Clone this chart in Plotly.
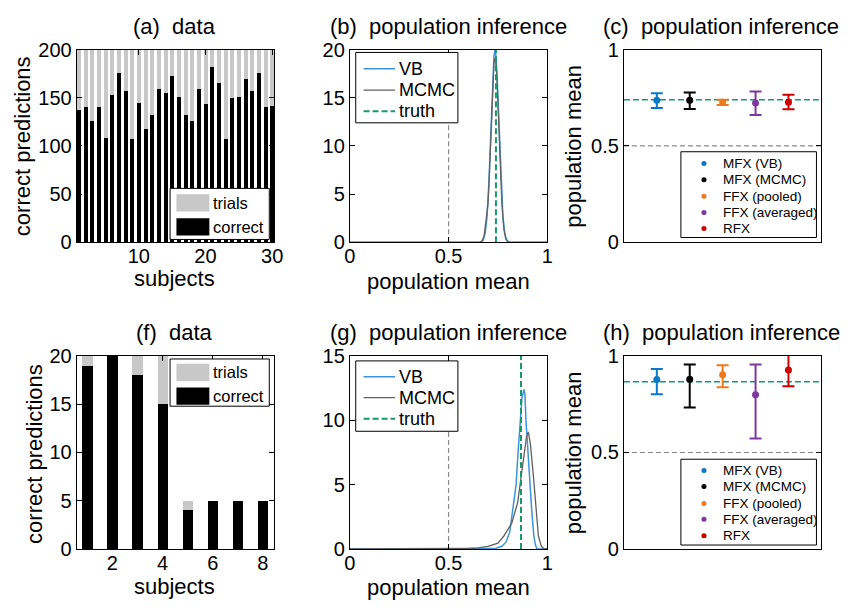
import plotly.graph_objects as go

W, H = 851, 610
FONT = "Liberation Sans, Arial, sans-serif"

# ---------------- data ----------------
subjects_a = [1, 2, 3, 4, 5, 6, 7, 8, 9, 10, 11, 12, 13, 14, 15,
              16, 17, 18, 19, 20, 21, 22, 23, 24, 25, 26, 27, 28, 29, 30]
trials_a = [200, 200, 200, 200, 200, 200, 200, 200, 200, 200,
            200, 200, 200, 200, 200, 200, 200, 200, 200, 200,
            200, 200, 200, 200, 200, 200, 200, 200, 200, 200]
correct_a = [138, 141, 126, 141, 109, 153, 176, 157, 108, 145,
             118, 133, 160, 155, 173, 151, 133, 126, 160, 144,
             182, 166, 108, 150, 151, 170, 157, 176, 141, 142]

subjects_f = [1, 2, 3, 4, 5, 6, 7, 8]
trials_f = [20, 20, 20, 20, 5, 5, 5, 5]
correct_f = [19, 20, 18, 15, 4, 5, 5, 5]

# posterior densities of the population mean
vb_x_b = [0.0, 0.60, 0.645, 0.655, 0.665, 0.675, 0.685, 0.695, 0.700, 0.705, 0.710, 0.715,
          0.720, 0.725, 0.730, 0.735, 0.740, 0.745, 0.750, 0.755, 0.760, 0.765,
          0.770, 0.775, 0.785, 0.795, 0.805, 0.815, 0.90, 1.0]
vb_y_b = [0.0, 0.0, 0.0, 0.01, 0.04, 0.22, 0.88, 2.70, 4.32, 6.48, 9.13, 12.1,
          15.06, 17.61, 19.33, 19.95, 19.33, 17.61, 15.06, 12.1, 9.13, 6.48,
          4.32, 2.70, 0.88, 0.22, 0.04, 0.01, 0.0, 0.0]
mc_x_b = [0.0, 0.60, 0.660, 0.670, 0.680, 0.690, 0.700, 0.705, 0.710, 0.715,
          0.720, 0.725, 0.730, 0.735, 0.740, 0.745, 0.750, 0.755, 0.760, 0.765,
          0.770, 0.780, 0.790, 0.800, 0.810, 0.90, 1.0]
mc_y_b = [0.0, 0.0, 0.02, 0.15, 0.70, 2.30, 4.10, 6.20, 8.80, 11.7,
          14.6, 17.0, 18.6, 19.1, 18.6, 17.0, 14.6, 11.7, 8.8, 6.2,
          4.1, 1.4, 0.35, 0.06, 0.0, 0.0, 0.0]
truth_b = 0.74

vb_x_g = [0.0, 0.70, 0.74, 0.77, 0.79, 0.81, 0.826, 0.842, 0.852, 0.862, 0.872,
          0.882, 0.887, 0.892, 0.902, 0.912, 0.922, 0.932, 0.940, 0.948, 1.0]
vb_y_g = [0.0, 0.0, 0.05, 0.2, 0.5, 1.3, 3.0, 5.0, 7.5, 10.0, 11.8,
          12.4, 12.0, 10.0, 7.3, 5.0, 2.8, 1.0, 0.3, 0.0, 0.0]
mc_x_g = [0.0, 0.55, 0.60, 0.65, 0.70, 0.75, 0.78, 0.80, 0.82, 0.85, 0.87,
          0.88, 0.895, 0.904, 0.915, 0.93, 0.945, 0.955, 0.97, 0.985, 1.0]
mc_y_g = [0.0, 0.0, 0.03, 0.08, 0.2, 0.45, 1.0, 1.5, 2.0, 3.6, 5.9,
          7.4, 8.75, 9.1, 8.1, 5.6, 2.6, 1.0, 0.2, 0.0, 0.0]
truth_g = 0.867

methods = ["MFX (VB)", "MFX (MCMC)", "FFX (pooled)", "FFX (averaged)", "RFX"]
method_pos = [1, 2, 3, 4, 5]
method_colors = ["#0a78c8", "#000000", "#ee7a1e", "#7e36a0", "#cc0000"]
mean_c = [0.737, 0.737, 0.727, 0.723, 0.727]
upper_c = [0.773, 0.777, 0.740, 0.782, 0.765]
lower_c = [0.697, 0.692, 0.713, 0.660, 0.690]
mean_h = [0.878, 0.880, 0.903, 0.800, 0.928]
upper_h = [0.933, 0.957, 0.952, 0.957, 1.03]
lower_h = [0.802, 0.733, 0.838, 0.573, 0.843]
chance = 0.5

# ---------------- layout helpers ----------------
cols = [(72, 273), (350, 551), (629, 830)]
rows = [(40, 240), (358, 558)]


def dx(l, r):
    return [l / W, r / W]


def dy(t, b):
    return [1 - b / H, 1 - t / H]


def px(x):
    return x / W


def py(y):
    return 1 - y / H


fig = go.Figure()

GRAY_BAR = "#c8c8c8"
VB_COL = "#3d93d9"
MC_COL = "#606060"
TRUTH_COL = "#17996a"
CHANCE_COL = "#8c8c8c"
TRUTH_DASH = "6px,3px"
CHANCE_DASH = "5px,3px"


def bar_panel(xa, ya, subj, trials, correct, width):
    fig.add_trace(go.Bar(x=subj, y=trials, width=width, name="trials",
                         marker=dict(color=GRAY_BAR, line=dict(width=0)),
                         xaxis=xa, yaxis=ya, showlegend=False))
    fig.add_trace(go.Bar(x=subj, y=correct, width=width, name="correct",
                         marker=dict(color="black", line=dict(width=0)),
                         xaxis=xa, yaxis=ya, showlegend=False))


def density_panel(xa, ya, vx, vy, mx, my, truth, ytop):
    fig.add_trace(go.Scatter(x=[chance, chance], y=[0, ytop], mode="lines",
                             line=dict(color=CHANCE_COL, width=1.2, dash=CHANCE_DASH),
                             xaxis=xa, yaxis=ya, showlegend=False))
    fig.add_trace(go.Scatter(x=vx, y=vy, mode="lines", name="VB", line=dict(color=VB_COL, width=1.5),
                             xaxis=xa, yaxis=ya, showlegend=False))
    fig.add_trace(go.Scatter(x=mx, y=my, mode="lines", name="MCMC", line=dict(color=MC_COL, width=1.3),
                             xaxis=xa, yaxis=ya, showlegend=False))
    fig.add_trace(go.Scatter(x=[truth, truth], y=[0, ytop], mode="lines", name="truth",
                             line=dict(color=TRUTH_COL, width=2, dash=TRUTH_DASH),
                             xaxis=xa, yaxis=ya, showlegend=False))


def summary_panel(xa, ya, means, upper, lower, truth):
    fig.add_trace(go.Scatter(x=[0, 6], y=[chance, chance], mode="lines",
                             line=dict(color=CHANCE_COL, width=1.2, dash=CHANCE_DASH),
                             xaxis=xa, yaxis=ya, showlegend=False))
    fig.add_trace(go.Scatter(x=[0, 6], y=[truth, truth], mode="lines",
                             line=dict(color=TRUTH_COL, width=1.6, dash=TRUTH_DASH),
                             xaxis=xa, yaxis=ya, showlegend=False))
    for i, name in enumerate(methods):
        fig.add_trace(go.Scatter(
            x=[method_pos[i]], y=[means[i]], mode="markers", name=name,
            marker=dict(color=method_colors[i], size=7),
            error_y=dict(type="data", symmetric=False,
                         array=[upper[i] - means[i]], arrayminus=[means[i] - lower[i]],
                         color=method_colors[i], thickness=2, width=6),
            xaxis=xa, yaxis=ya, showlegend=False))


bar_panel("x", "y", subjects_a, trials_a, correct_a, 0.6)
density_panel("x2", "y2", vb_x_b, vb_y_b, mc_x_b, mc_y_b, truth_b, 20)
summary_panel("x3", "y3", mean_c, upper_c, lower_c, truth_b)
bar_panel("x4", "y4", subjects_f, trials_f, correct_f, 0.42)
density_panel("x5", "y5", vb_x_g, vb_y_g, mc_x_g, mc_y_g, truth_g, 15)
summary_panel("x6", "y6", mean_h, upper_h, lower_h, truth_g)

axis_style = dict(showline=True, linecolor="black", linewidth=1, mirror="ticks",
                  ticks="inside", ticklen=5, tickcolor="black", tickwidth=1,
                  showgrid=False, zeroline=False,
                  tickfont=dict(family=FONT, size=20, color="black"))

layout = dict(
    width=W, height=H, margin=dict(l=0, r=0, t=0, b=0),
    paper_bgcolor="white", plot_bgcolor="white",
    barmode="overlay", bargap=0, showlegend=False,
    font=dict(family=FONT, color="black"),
)

xspecs = [
    ("xaxis", cols[0], dict(range=[0.7, 30.3], tickvals=[10, 20, 30])),
    ("xaxis2", cols[1], dict(range=[0, 1], tickvals=[0, 0.5, 1], ticktext=["0", "0.5", "1"])),
    ("xaxis3", cols[2], dict(range=[0, 6], ticks="", showticklabels=False)),
    ("xaxis4", cols[0], dict(range=[0.58, 8.45], tickvals=[2, 4, 6, 8])),
    ("xaxis5", cols[1], dict(range=[0, 1], tickvals=[0, 0.5, 1], ticktext=["0", "0.5", "1"])),
    ("xaxis6", cols[2], dict(range=[0, 6], ticks="", showticklabels=False)),
]
yspecs = [
    ("yaxis", "x", rows[0], dict(range=[0, 200], tickvals=[0, 50, 100, 150, 200])),
    ("yaxis2", "x2", rows[0], dict(range=[0, 20], tickvals=[0, 5, 10, 15, 20])),
    ("yaxis3", "x3", rows[0], dict(range=[0, 1], tickvals=[0, 0.5, 1], ticktext=["0", "0.5", "1"])),
    ("yaxis4", "x4", rows[1], dict(range=[0, 20], tickvals=[0, 5, 10, 15, 20])),
    ("yaxis5", "x5", rows[1], dict(range=[0, 15], tickvals=[0, 5, 10, 15])),
    ("yaxis6", "x6", rows[1], dict(range=[0, 1], tickvals=[0, 0.5, 1], ticktext=["0", "0.5", "1"])),
]
for i, (name, c, extra) in enumerate(xspecs):
    d = dict(axis_style)
    d.update(domain=dx(*c), anchor="y" if i == 0 else "y" + str(i + 1), fixedrange=True,
             ticklabelstandoff=-4)
    d.update(extra)
    layout[name] = d
for i, (name, anc, r, extra) in enumerate(yspecs):
    d = dict(axis_style)
    d.update(domain=dy(*r), anchor=anc, fixedrange=True)
    d.update(extra)
    layout[name] = d

fig.update_layout(**layout)


# ---------------- text helpers ----------------
def text(x, y, s, size=22, angle=0, anchor="center", color="black"):
    fig.add_annotation(x=px(x), y=py(y), xref="paper", yref="paper", text=s, showarrow=False,
                       xanchor=anchor, yanchor="middle", textangle=angle,
                       font=dict(family=FONT, size=size, color=color))


def rect(x0, y0, x1, y1, fill, line_col=None, lw=1):
    fig.add_shape(type="rect", xref="paper", yref="paper", x0=px(x0), x1=px(x1), y0=py(y1), y1=py(y0),
                  fillcolor=fill, line=dict(color=line_col or fill, width=lw if line_col else 0),
                  layer="above")


def hline(x0, x1, y, col, width, dash="solid"):
    fig.add_shape(type="line", xref="paper", yref="paper", x0=px(x0), x1=px(x1), y0=py(y), y1=py(y),
                  line=dict(color=col, width=width, dash=dash), layer="above")


def dot(x, y, col, r=2.6):
    fig.add_shape(type="circle", xref="paper", yref="paper", x0=px(x - r), x1=px(x + r),
                  y0=py(y + r), y1=py(y - r), fillcolor=col, line=dict(width=0), layer="above")


# ---------------- legends (drawn as keys) ----------------
def bar_legend(x0, y0, x1, y1, ys):
    rect(x0, y0, x1, y1, "white", "black", 1)
    names = ["trials", "correct"]
    cols_ = [GRAY_BAR, "black"]
    for yy, nm, cc in zip(ys, names, cols_):
        rect(x0 + 6.5, yy - 9, x0 + 40, yy + 9, cc)
        text(x0 + 42, yy, nm, size=16.5, anchor="left")


def line_legend(x0, y0, x1, y1, ys):
    rect(x0, y0, x1, y1, "white", "black", 1)
    specs = [("VB", VB_COL, 1.5, "solid"), ("MCMC", MC_COL, 1.3, "solid"),
             ("truth", TRUTH_COL, 2, TRUTH_DASH)]
    for yy, (nm, cc, lw, ds) in zip(ys, specs):
        hline(x0 + 8, x0 + 40, yy, cc, lw, ds)
        text(x0 + 42, yy, nm, size=18, anchor="left")


def dot_legend(x0, y0, x1, y1, ys):
    rect(x0, y0, x1, y1, "white", "black", 1)
    for yy, nm, cc in zip(ys, methods, method_colors):
        dot(x0 + 23.5, yy, cc)
        text(x0 + 41, yy, nm, size=13.5, anchor="left")


bar_legend(167, 184, 268, 237, [199, 224])
bar_legend(167, 361, 268, 410, [375, 399.5])
line_legend(356, 43, 460, 116, [60, 82, 104])
line_legend(356, 363, 460, 436, [379.5, 401, 423])
dot_legend(687, 146, 825, 235, [158.3, 175, 192.3, 209, 225.7])
dot_legend(687, 465, 825, 554, [476.7, 493.3, 511, 527.3, 544.3])

# ---------------- titles and axis labels ----------------
NB = "\u00a0"
text(172, 16, "(a)" + NB + " data")
text(450, 16, "(b)" + NB + " population inference")
text(728, 16, "(c)" + NB + " population inference")
text(172, 334, "(f)" + NB + " data")
text(450, 334, "(g)" + NB + " population inference")
text(728, 334, "(h)" + NB + " population inference")

text(172, 278, "subjects")
text(450, 281, "population mean")
text(172, 597, "subjects")
text(450, 598, "population mean")

text(17.5, 140, "correct predictions", angle=-90)
text(29, 459, "correct predictions", angle=-90)
text(578, 140, "population mean", angle=-90)
text(578, 458, "population mean", angle=-90)

fig.write_html("out.html")
